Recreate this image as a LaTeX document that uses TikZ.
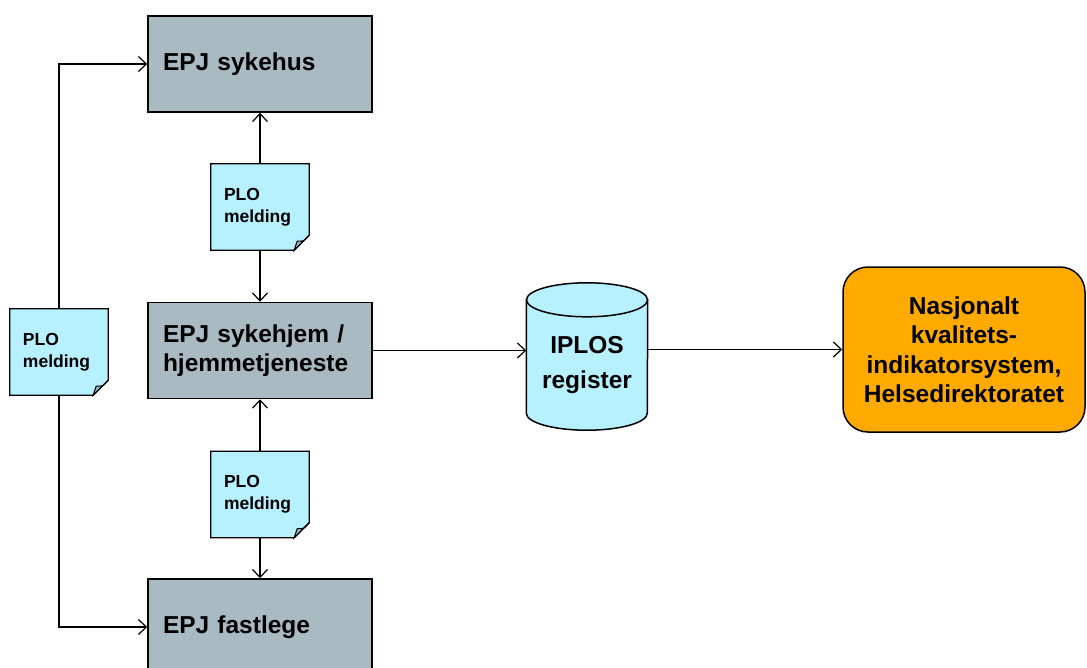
\documentclass[tikz,border=0pt]{standalone}
\usepackage{fontspec}
\setmainfont{Liberation Sans}
\usetikzlibrary{arrows.meta,backgrounds}
\definecolor{epjgray}{RGB}{170,186,194}
\definecolor{plocyan}{RGB}{183,240,255}
\definecolor{plofold}{RGB}{140,186,196}
\definecolor{hdirorange}{RGB}{255,170,0}
\begin{document}
\begin{tikzpicture}[x=1pt,y=-1pt,>={Straight Barb[length=8pt,width=15pt]},
  epj/.style={draw,fill=epjgray,line width=1.5pt,minimum width=224pt,minimum height=96pt,
    text width=194pt,inner xsep=15pt,align=left,font=\bfseries\fontsize{24.5}{29.5}\selectfont},
  plo/.style={minimum width=98pt,minimum height=86pt,text width=72pt,inner xsep=13pt,
    align=left,font=\bfseries\fontsize{17.5}{22}\selectfont},
  iplosbox/.style={minimum width=121pt,minimum height=130pt,align=center,
    font=\bfseries\fontsize{24.5}{35}\selectfont},
  kvalbox/.style={draw,fill=hdirorange,line width=1.5pt,rounded corners=25pt,minimum width=242pt,
    minimum height=165pt,align=center,font=\bfseries\fontsize{24.5}{29.5}\selectfont},
  link/.style={->,line width=1.2pt}]
  \useasboundingbox (0,0) rectangle (1087,667);
  % journal systems
  \node[epj] (sykehus) at (260,64) {EPJ sykehus};
  \node[epj] (sykehjem) at (260,350.5) {EPJ sykehjem /\\hjemmetjeneste};
  \node[epj] (fastlege) at (260,627) {EPJ fastlege};
  % messages
  \node[plo] (ploup) at (260,207) {PLO\\melding};
  \node[plo] (plodown) at (260,494.5) {PLO\\melding};
  \node[plo] (ploleft) at (59,352) {PLO\\melding};
  % register and indicator system
  \node[iplosbox] (iplos) at (587,365) {IPLOS\\register};
  \node[kvalbox] (kval) at (964,349.5) {Nasjonalt\\kvalitets-\\indikatorsystem,\\Helsedirektoratet};
  \begin{scope}[on background layer]
    \foreach \n in {ploup,plodown,ploleft} {
      \draw[line width=1.2pt,fill=plocyan] (\n.north west) -- (\n.north east)
        -- ([yshift=15pt]\n.south east) -- ([xshift=-15pt]\n.south east) -- (\n.south west) -- cycle;
      \draw[line width=1pt,fill=plofold] ([yshift=15pt]\n.south east)
        .. controls ([xshift=-5pt,yshift=9pt]\n.south east) .. ([xshift=-12pt,yshift=9pt]\n.south east)
        -- ([xshift=-15pt]\n.south east) -- cycle;
    }
    \draw[line width=1.5pt,fill=plocyan] (iplos.north west) -- ([yshift=17pt]iplos.south west)
      arc[start angle=180,end angle=360,x radius=60.5pt,y radius=17pt] -- (iplos.north east) -- cycle;
    \draw[line width=1.5pt,fill=plocyan] (iplos.north) ellipse[x radius=60.5pt,y radius=17pt];
  \end{scope}
  % connectors
  \draw[link] (ploup) -- (sykehus);
  \draw[link] (ploup) -- (sykehjem);
  \draw[link] (plodown) -- (sykehjem);
  \draw[link] (plodown) -- (fastlege);
  \draw[link] (ploleft) |- (sykehus);
  \draw[link] (ploleft) |- (fastlege);
  \draw[link] (sykehjem) -- (sykehjem -| iplos.west);
  \draw[link] (iplos.east |- kval.west) -- (kval);
\end{tikzpicture}
\end{document}
